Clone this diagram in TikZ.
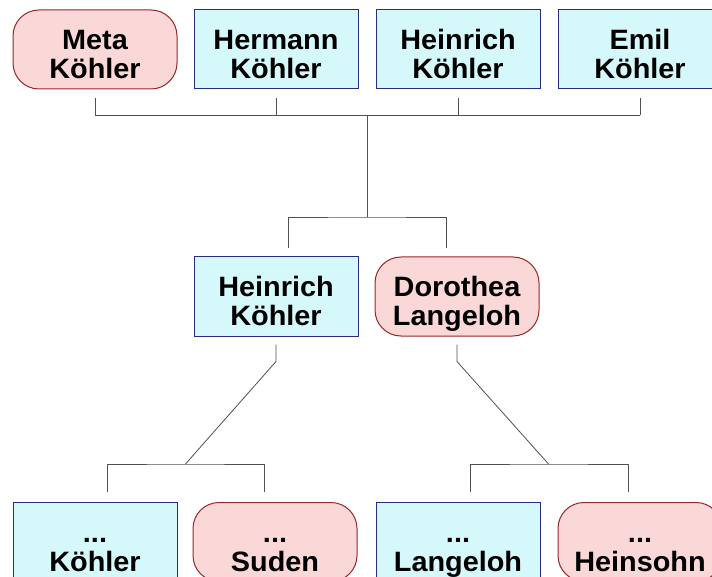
\documentclass[tikz,border=0pt]{standalone}
\usepackage{fontspec}
\setmainfont{Liberation Sans}[FakeStretch=1.03]
\usepackage{xcolor}
\usetikzlibrary{positioning,calc}
\definecolor{maleline}{RGB}{40,45,130}
\definecolor{malefill}{RGB}{213,248,250}
\definecolor{femline}{RGB}{150,40,40}
\definecolor{femfill}{RGB}{250,216,216}
\definecolor{linkgray}{RGB}{80,80,80}
% two name lines, first baseline on the node centre
\newcommand{\persontext}[2]{\smash{\begin{tabular}[t]{@{}c@{}}#1\\#2\end{tabular}}}
\tikzset{
  person/.style={align=center, minimum width=164pt, minimum height=79pt, inner sep=2pt, line width=1pt,
    font=\fontsize{28}{29}\selectfont\bfseries},
  male/.style={person, draw=maleline, fill=malefill},
  female/.style={person, draw=femline, fill=femfill, rounded corners=26pt},
  link/.style={draw=linkgray, line width=0.8pt},
}
\begin{document}
\begin{tikzpicture}[x=1pt,y=-1pt]
  \useasboundingbox (0,0) rectangle (712,577);
  % top row
  \node[female] (meta)      at (95,49.5)  {\persontext{Meta}{Köhler}};
  \node[male]   (hermann)   at (276,49.5) {\persontext{Hermann}{Köhler}};
  \node[male]   (heinrichA) at (458,49.5) {\persontext{Heinrich}{Köhler}};
  \node[male]   (emil)      at (640,49.5) {\persontext{Emil}{Köhler}};
  % middle couple
  \node[male]   (heinrich)  at (276,296.5) {\persontext{Heinrich}{Köhler}};
  \node[female] (dorothea)  at (457,296.5) {\persontext{Dorothea}{Langeloh}};
  % bottom row
  \node[male]   (koehler)   at (95,542)  {\persontext{...}{Köhler}};
  \node[female] (suden)     at (275,542) {\persontext{...}{Suden}};
  \node[male]   (langeloh)  at (458,542) {\persontext{...}{Langeloh}};
  \node[female] (heinsohn)  at (640,542) {\persontext{...}{Heinsohn}};
  % bars
  \coordinate (topbar) at (367,115);
  \coordinate (midbar) at (367,217);
  \coordinate (lbar) at (185.5,464);
  \coordinate (rbar) at (548.5,464);
  % siblings
  \foreach \n in {meta,hermann,heinrichA,emil}{
    \draw[link] ([yshift=-9pt]\n.south) -- (\n.south |- topbar);
  }
  \draw[link] (meta.south |- topbar) -- (emil.south |- topbar);
  \draw[link] (topbar) -- (midbar);
  \draw[link] ([xshift=12pt,yshift=8pt]heinrich.north) |- (midbar) -| ([xshift=-11pt,yshift=8pt]dorothea.north);
  % down to the next couples
  \draw[link] ([yshift=-8pt]heinrich.south) -- ++(0,17) -- (lbar);
  \draw[link] ([yshift=-8pt]dorothea.south) -- ++(0,17) -- (rbar);
  \draw[link] ([xshift=12pt,yshift=10pt]koehler.north) |- (lbar) -| ([xshift=-11pt,yshift=10pt]suden.north);
  \draw[link] ([xshift=12pt,yshift=10pt]langeloh.north) |- (rbar) -| ([xshift=-12pt,yshift=10pt]heinsohn.north);
\end{tikzpicture}
\end{document}
